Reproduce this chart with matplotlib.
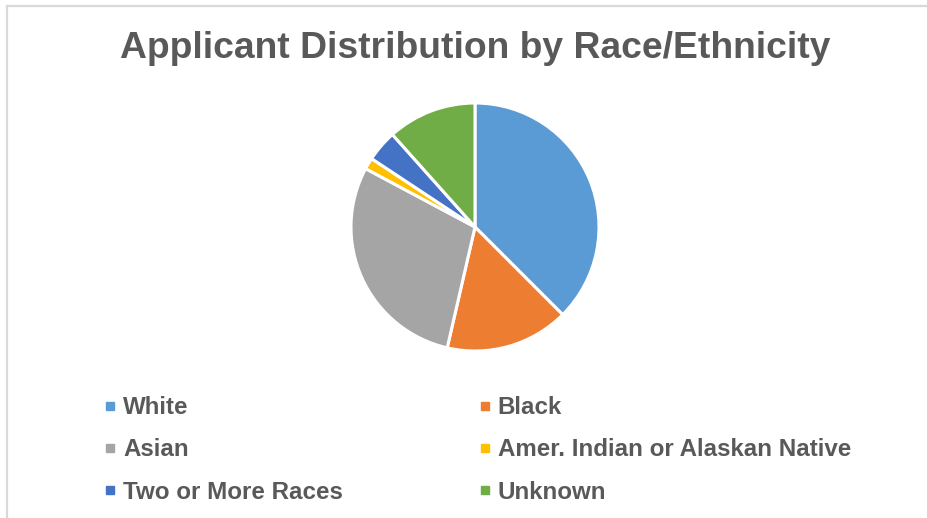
import matplotlib
matplotlib.use("Agg")
import matplotlib.pyplot as plt
from matplotlib.lines import Line2D

# ------------------------------------------------------------
# Daten
categories = ["White", "Black", "Asian", "Amer. Indian or Alaskan Native",
              "Two or More Races", "Unknown"]
shares = [37.5, 16.1, 29.2, 1.5, 4.1, 11.6]
colors = ["#5B9BD5", "#ED7D31", "#A5A5A5", "#FFC000", "#4472C4", "#70AD47"]
title = "Applicant Distribution by Race/Ethnicity"

plt.rcParams["font.family"] = ["Liberation Sans", "DejaVu Sans"]
text_col = "#595959"

W, H = 928, 518
fig = plt.figure(figsize=(W / 100, H / 100), dpi=100)

# Rahmen (nur links und oben sichtbar)
fig.add_artist(Line2D([7 / W, 7 / W], [0, 1 - 6 / H], color="#D9D9D9", lw=1.6))
fig.add_artist(Line2D([7 / W, 1], [1 - 6 / H, 1 - 6 / H], color="#D9D9D9", lw=1.6))

# ------------------------------------------------------------
# Kreisdiagramm
cx, cy, r = 475, 227, 124
ax = fig.add_axes([(cx - r) / W, (H - cy - r) / H, 2 * r / W, 2 * r / H])
wedges, _ = ax.pie(shares, colors=colors, startangle=90, counterclock=False,
                   wedgeprops=dict(edgecolor="white", linewidth=2.2))
ax.set_xlim(-1, 1)
ax.set_ylim(-1, 1)

fig.text(cx / W, 1 - 49 / H, title, ha="center", va="center",
         fontsize=26.8, fontweight="bold", color=text_col)

# ------------------------------------------------------------
# Legende (zeilenweise: zwei Spalten)
order = [0, 2, 4, 1, 3, 5]
handles = [Line2D([], [], marker="s", linestyle="", markersize=6,
                  color=colors[i]) for i in order]
labels = [categories[i] for i in order]
leg = fig.legend(handles, labels, ncol=2, loc="upper left",
                 bbox_to_anchor=(104 / W, 1 - 396 / H), frameon=False,
                 prop=dict(size=17.4, weight="bold"), labelcolor=text_col,
                 handlelength=0.5, handletextpad=0.3, columnspacing=5.6,
                 labelspacing=0.8, borderaxespad=0, borderpad=0)

fig.savefig("out.png", dpi=100)
